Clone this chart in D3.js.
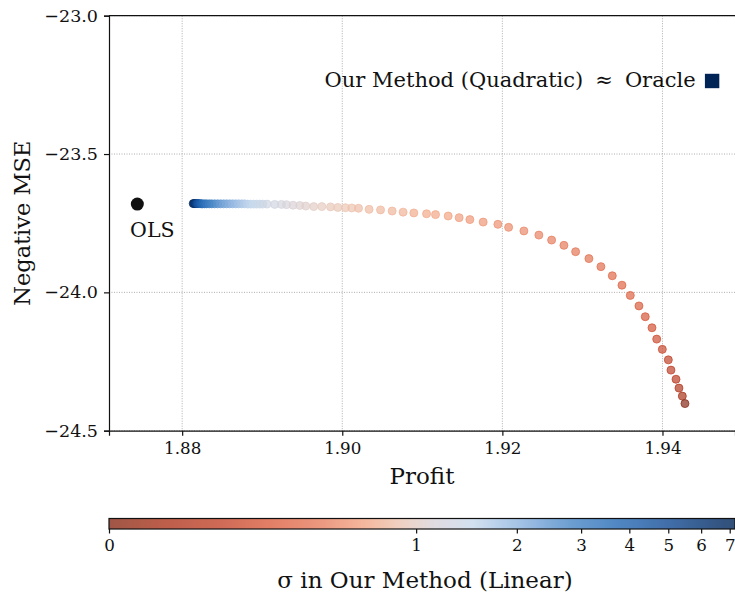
<!DOCTYPE html>
<html>
<head>
<meta charset="utf-8">
<script src="https://cdn.jsdelivr.net/npm/d3@7"></script>
<style>
  body { margin: 0; background: #fff; }
  svg { display: block; font-family: 'DejaVu Serif', serif; }
</style>
</head>
<body>
<script>
// sweep over sigma (sigma = 0 is the bottom-right end)
const sigma = [
  0, 0.17, 0.23, 0.29, 0.33, 0.36, 0.40, 0.43, 0.46, 0.49,
  0.52, 0.55, 0.57, 0.59, 0.61, 0.63, 0.65, 0.67, 0.69, 0.71,
  0.73, 0.74, 0.76, 0.78, 0.79, 0.81, 0.83, 0.84, 0.85, 0.86,
  0.88, 0.89, 0.90, 0.91, 0.92, 0.94, 0.95, 0.96, 0.97, 0.99,
  1.0, 1.04, 1.08, 1.12, 1.17, 1.22, 1.27, 1.32,
  1.38, 1.42, 1.46, 1.5, 1.55, 1.6, 1.67, 1.75, 1.83, 1.92,
  2.0, 2.1, 2.2, 2.3, 2.45, 2.6, 2.75, 2.9, 3.05, 3.25,
  3.45, 3.7, 3.95, 4.25, 4.6, 5.0, 5.5, 6.0, 6.6, 7.2,
];
const profit = [
  1.94281, 1.94248, 1.94206, 1.94169, 1.94106, 1.94073, 1.93998, 1.93928, 1.93869, 1.93785,
  1.93706, 1.93598, 1.93494, 1.93373, 1.93231, 1.93081, 1.92915, 1.92769, 1.92615, 1.92456,
  1.92269, 1.92078, 1.91944, 1.91760, 1.91594, 1.91460, 1.91323, 1.91165, 1.91053, 1.90894,
  1.90760, 1.90623, 1.90478, 1.90335, 1.90203, 1.90119, 1.90040, 1.89944, 1.89853, 1.89745,
  1.89644, 1.89544, 1.89469, 1.89385, 1.89303, 1.89240, 1.89156, 1.89060,
  1.89006, 1.88969, 1.88931, 1.88894, 1.88856, 1.88819, 1.88781, 1.88744, 1.88706, 1.88669,
  1.88631, 1.88594, 1.88556, 1.88519, 1.88481, 1.88444, 1.88406, 1.88369, 1.88338, 1.88306,
  1.88281, 1.88256, 1.88238, 1.88219, 1.88200, 1.88188, 1.88175, 1.88163, 1.88150, 1.88138,
];
const negMse = [
  -24.402, -24.375, -24.346, -24.314, -24.281, -24.244, -24.206, -24.169, -24.128, -24.088,
  -24.049, -24.011, -23.974, -23.940, -23.907, -23.878, -23.853, -23.830, -23.811, -23.793,
  -23.778, -23.765, -23.754, -23.746, -23.737, -23.730, -23.724, -23.719, -23.716, -23.713,
  -23.710, -23.706, -23.702, -23.700, -23.696, -23.695, -23.694, -23.693, -23.691, -23.690,
  -23.690, -23.688, -23.686, -23.685, -23.683, -23.682, -23.682, -23.681,
  -23.681, -23.681, -23.681, -23.681, -23.681, -23.681, -23.680, -23.680, -23.680, -23.680,
  -23.680, -23.680, -23.680, -23.680, -23.680, -23.680, -23.680, -23.680, -23.680, -23.680,
  -23.680, -23.680, -23.680, -23.679, -23.679, -23.679, -23.679, -23.679, -23.679, -23.679,
];

const ols = { profit: 1.8744, negMse: -23.681, label: 'OLS' };
const oracle = { profit: 1.9462, negMse: -23.236, label: ['Our Method (Quadratic)', '\u2248', 'Oracle'] };

const xTicks = [1.88, 1.90, 1.92, 1.94];
const yTicks = [-23.0, -23.5, -24.0, -24.5];
const cbTicks = [0, 1, 2, 3, 4, 5, 6, 7];
const sigmaMax = 7.2;

// colormap stops (position along the colour bar, colour)
const cmapPos = [0, 0.093, 0.173, 0.253, 0.333, 0.413, 0.466, 0.518, 0.582, 0.653, 0.733, 0.813, 0.893, 0.973, 1];
const cmapColors = [
  '#882b18', '#ae371e', '#c1442b', '#da5d3d', '#e67c5d', '#f3a888', '#ecc7b4',
  '#d9d3d9', '#c7d9ec', '#8fb4e0', '#4a88c7', '#2469b4', '#124a95', '#002b63', '#002456',
];

const width = 735;
const height = 595;
const margin = { left: 109, right: 735, top: 15.7, bottom: 430.7 };
const fmt = d3.format('.2f');
const fmtY = (d) => d3.format('.1f')(d).replace('-', '\u2212');

// stretch of the colour bar: linear below 1, compressed power above
const warp = (s) => (s <= 1 ? s : 1 + 2.795 * (Math.pow(s, 0.16) - 1));

const x = d3.scaleLinear().domain([1.87086, 1.94906]).range([margin.left, margin.right]);
const y = d3.scaleLinear().domain([-23.0, -24.5]).range([margin.top, margin.bottom]);
const cbX = d3.scaleLinear().domain([0, warp(sigmaMax)]).range([109, 735]);
const cmap = d3.scaleLinear().domain(cmapPos).range(cmapColors).interpolate(d3.interpolateRgb);
const color = (s) => cmap(warp(s) / warp(sigmaMax));

const svg = d3
  .select('body')
  .append('svg')
  .attr('width', width)
  .attr('height', height);

// grid
const grid = svg.append('g')
  .attr('stroke', '#999999')
  .attr('stroke-width', 0.8)
  .attr('stroke-dasharray', '1,1.5');
grid.selectAll('.gx')
  .data(xTicks)
  .enter()
  .append('line')
  .attr('x1', (d) => x(d))
  .attr('x2', (d) => x(d))
  .attr('y1', margin.top)
  .attr('y2', margin.bottom);
grid.selectAll('.gy')
  .data(yTicks)
  .enter()
  .append('line')
  .attr('x1', margin.left)
  .attr('x2', margin.right)
  .attr('y1', (d) => y(d))
  .attr('y2', (d) => y(d));

// sweep points, drawn from large sigma down so sigma = 0 ends on top
const pts = sigma.map((s, i) => ({ s, p: profit[i], m: negMse[i] }))
  .sort((a, b) => b.s - a.s);

svg.append('g')
  .selectAll('circle')
  .data(pts)
  .enter()
  .append('circle')
  .attr('cx', (d) => x(d.p))
  .attr('cy', (d) => y(d.m))
  .attr('r', 4)
  .attr('fill', (d) => color(d.s))
  .attr('fill-opacity', 0.7)
  .attr('stroke', (d) => color(d.s))
  .attr('stroke-opacity', 0.75)
  .attr('stroke-width', 1);

// OLS
svg.append('circle')
  .attr('cx', x(ols.profit))
  .attr('cy', y(ols.negMse))
  .attr('r', 6.5)
  .attr('fill', '#111');
svg.append('text')
  .attr('x', x(ols.profit) + 15)
  .attr('y', y(ols.negMse) + 33)
  .attr('text-anchor', 'middle')
  .attr('font-size', 20.5)
  .attr('fill', '#111')
  .text(ols.label);

// oracle
svg.append('rect')
  .attr('x', x(oracle.profit) - 7.2)
  .attr('y', y(oracle.negMse) - 7.2)
  .attr('width', 14.4)
  .attr('height', 14.4)
  .attr('fill', color(sigmaMax));
const ann = svg.append('text')
  .attr('x', x(oracle.profit) - 16.5)
  .attr('y', y(oracle.negMse) + 6.5)
  .attr('text-anchor', 'end')
  .attr('font-size', 21)
  .attr('fill', '#111');
ann.selectAll('tspan')
  .data(oracle.label)
  .enter()
  .append('tspan')
  .attr('dx', (d, i) => (i === 0 ? 0 : 12))
  .text((d) => d);

// axes
const xAxis = svg.append('g')
  .attr('transform', `translate(0,${margin.bottom})`)
  .call(d3.axisBottom(x).tickValues(xTicks).tickFormat(fmt).tickSize(5).tickPadding(6));
const yAxis = svg.append('g')
  .attr('transform', `translate(${margin.left},0)`)
  .call(d3.axisLeft(y).tickValues(yTicks).tickFormat(fmtY).tickSize(5).tickPadding(6));
xAxis.selectAll('text').attr('font-size', 16.7);
yAxis.selectAll('text').attr('font-size', 17.5);
[xAxis, yAxis].forEach((a) => {
  a.selectAll('text').attr('font-family', 'DejaVu Serif').attr('fill', '#111');
  a.selectAll('line, path').attr('stroke', '#111').attr('stroke-width', 1.2);
});
svg.append('line')
  .attr('x1', margin.left)
  .attr('x2', margin.right)
  .attr('y1', margin.top)
  .attr('y2', margin.top)
  .attr('stroke', '#111')
  .attr('stroke-width', 1.2);

svg.append('text')
  .attr('x', (margin.left + margin.right) / 2)
  .attr('y', 484)
  .attr('text-anchor', 'middle')
  .attr('font-size', 23)
  .attr('fill', '#111')
  .text('Profit');
svg.append('text')
  .attr('transform', `translate(30,${(margin.top + margin.bottom) / 2}) rotate(-90)`)
  .attr('text-anchor', 'middle')
  .attr('font-size', 22.5)
  .attr('fill', '#111')
  .text('Negative MSE');

// colour bar
const grad = svg.append('defs')
  .append('linearGradient')
  .attr('id', 'cb');
grad.selectAll('stop')
  .data(d3.range(0, 1.0001, 0.02))
  .enter()
  .append('stop')
  .attr('offset', (d) => d)
  .attr('stop-color', (d) => cmap(d));

const cbTop = 518.5;
const cbH = 10.5;
svg.append('rect')
  .attr('x', cbX(0))
  .attr('y', cbTop)
  .attr('width', cbX(warp(sigmaMax)) - cbX(0))
  .attr('height', cbH)
  .attr('fill', 'url(#cb)')
  .attr('fill-opacity', 0.8)
  .attr('stroke', '#111')
  .attr('stroke-width', 1.2);

const cbAxis = svg.append('g')
  .attr('transform', `translate(0,${cbTop + cbH})`)
  .call(d3.axisBottom(cbX).tickValues(cbTicks.map(warp)).tickFormat((d, i) => cbTicks[i]).tickSize(4.5).tickPadding(6));
cbAxis.select('.domain').remove();
cbAxis.selectAll('line').attr('stroke', '#111').attr('stroke-width', 1.2);
cbAxis.selectAll('text').attr('font-family', 'DejaVu Serif').attr('font-size', 16.7).attr('fill', '#111');

svg.append('text')
  .attr('x', 425)
  .attr('y', 588)
  .attr('text-anchor', 'middle')
  .attr('font-size', 23)
  .attr('fill', '#111')
  .text('\u03c3 in Our Method (Linear)');
</script>
</body>
</html>
